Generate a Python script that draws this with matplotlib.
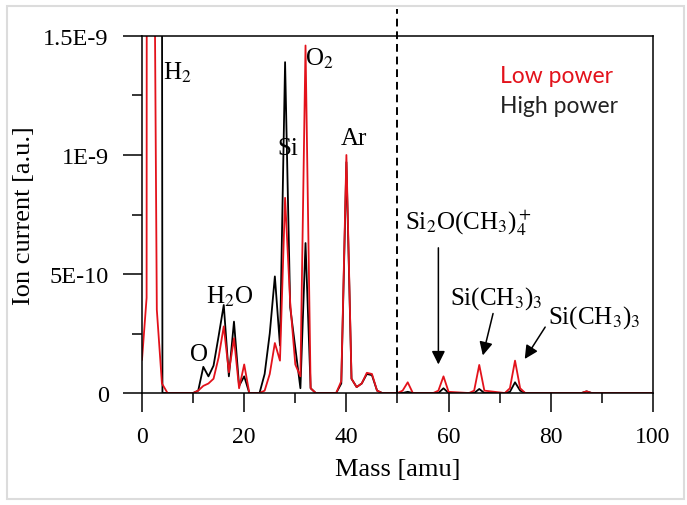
"""
Espectro de massa: corrente iônica vs massa, baixa e alta potência.
"""

import numpy as np
import matplotlib.pyplot as plt
from matplotlib.patches import Rectangle
from matplotlib.ticker import MultipleLocator, FixedLocator, FixedFormatter

plt.rcParams["font.family"] = "Liberation Serif"
plt.rcParams["mathtext.fontset"] = "stix"

# corrente em unidades de 1E-9 (a.u.)
low_mass = [0, 0.9, 1.0, 2.0, 2.9, 3.9, 5, 10, 11, 12, 13, 14, 15, 16, 17, 18, 19, 20, 21,
            23, 24, 25, 26, 27, 28, 29, 30, 31, 32, 33, 34, 38, 39, 40, 41, 42, 43, 44, 45,
            46, 47, 50, 51, 52, 53, 57, 58, 59, 60, 64, 65, 66, 67, 71, 72, 73, 74, 75,
            86, 87, 88, 100]
low_current = [0.14, 0.40, 5.0, 3.3, 0.35, 0.04, 0.0, 0.0, 0.01, 0.03, 0.04, 0.06, 0.15, 0.28,
               0.087, 0.23, 0.02, 0.12, 0.0,
               0.0, 0.01, 0.08, 0.21, 0.136, 0.82, 0.38, 0.12, 0.07, 1.46, 0.02, 0.0, 0.0,
               0.05, 1.0, 0.06, 0.025, 0.04, 0.085, 0.08,
               0.01, 0.0, 0.0, 0.01, 0.045, 0.0, 0.0, 0.01, 0.07, 0.005, 0.0, 0.01, 0.118,
               0.01, 0.0, 0.02, 0.136, 0.02, 0.0,
               0.0, 0.007, 0.0, 0.0]

high_mass = [0, 1, 2, 3, 4, 10, 11, 12, 13, 14, 15, 16, 17, 18, 19, 20, 21,
             23, 24, 25, 26, 27, 28, 29, 30, 31, 32, 33, 34, 38, 39, 40, 41, 42, 43, 44, 45,
             46, 47, 51, 52, 53, 58, 59, 60, 65, 66, 67, 71, 72, 73, 74, 75,
             86, 87, 88, 100]
high_current = [20, 50, 60, 20, 0.0, 0.0, 0.01, 0.11, 0.07, 0.115, 0.24, 0.37, 0.07, 0.30,
                0.03, 0.07, 0.0,
                0.0, 0.08, 0.25, 0.49, 0.2, 1.39, 0.36, 0.19, 0.02, 0.63, 0.02, 0.0, 0.0,
                0.04, 0.97, 0.06, 0.025, 0.04, 0.08, 0.075,
                0.01, 0.0, 0.0, 0.005, 0.0, 0.0, 0.02, 0.0, 0.0, 0.017, 0.0, 0.0, 0.005,
                0.045, 0.01, 0.0,
                0.0, 0.007, 0.0, 0.0]

y_ticks = [0, 5e-10, 1e-9, 1.5e-9]
y_tick_labels = ["0", "5E-10", "1E-9", "1.5E-9"]

# rótulos dos picos: (texto, massa, corrente em 1E-9, alinhamento)
peak_labels = [
    ("H$_2$", 4.1, 1.35, "left"),
    ("O", 11.2, 0.165, "center"),
    ("H$_2$O", 17.2, 0.41, "center"),
    ("Si", 28.6, 1.03, "center"),
    ("O$_2$", 31.9, 1.41, "left"),
    ("Ar", 41.5, 1.07, "center"),
    ("Si$_2$O(CH$_3$)$_4^+$", 51.5, 0.72, "left"),
    ("Si(CH$_3$)$_3$", 60.3, 0.40, "left"),
    ("Si(CH$_3$)$_3$", 79.5, 0.32, "left"),
]
# setas: (massa início, corrente início, massa fim, corrente fim)
arrows = [
    (58.0, 0.61, 58.0, 0.12),
    (68.7, 0.334, 66.7, 0.158),
    (78.9, 0.277, 74.9, 0.143),
]

RED = "#e3121b"

fig = plt.figure(figsize=(6.87, 5.06), dpi=100)
ax = fig.add_axes([0.2067, 0.2213, 0.7438, 0.7056])

ax.plot(high_mass, np.array(high_current) * 1e-9, color="black", lw=1.3)
ax.plot(low_mass, np.array(low_current) * 1e-9, color=RED, lw=1.3)

ax.axvline(50, ymin=0, ymax=1.075, color="black", lw=1.4, ls=(0, (4, 2.5)), clip_on=False)

ax.set_xlim(0, 100)
ax.set_ylim(0, 1.5e-9)
ax.xaxis.set_major_locator(MultipleLocator(20))
ax.xaxis.set_minor_locator(MultipleLocator(10))
ax.yaxis.set_major_locator(FixedLocator(y_ticks))
ax.yaxis.set_major_formatter(FixedFormatter(y_tick_labels))
ax.yaxis.set_minor_locator(MultipleLocator(2.5e-10))
ax.tick_params(which="major", direction="out", length=14, width=1.1, labelsize=17, pad=10)
ax.tick_params(axis="y", which="major", labelsize=17.5)
ax.tick_params(which="minor", direction="out", length=7.5, width=1.1)
for s in ax.spines.values():
    s.set_linewidth(1.1)

ax.set_xlabel("Mass [amu]", fontsize=19, labelpad=8)
ax.set_ylabel("Ion current [a.u.]", fontsize=19, labelpad=6)

for text, m, c, ha in peak_labels:
    ax.text(m, c * 1e-9, text, fontsize=18, ha=ha, va="center")

for m0, c0, m1, c1 in arrows:
    ax.annotate("", xy=(m1, c1 * 1e-9), xytext=(m0, c0 * 1e-9),
                arrowprops=dict(arrowstyle="-|>", color="black", lw=1.1,
                                mutation_scale=20, shrinkA=0, shrinkB=0))

ax.text(0.70, 0.888, "Low power", transform=ax.transAxes, color=RED,
        fontsize=16.5, family="Lato", va="center")
ax.text(0.70, 0.804, "High power", transform=ax.transAxes, color="#222222",
        fontsize=16.5, family="Lato", va="center")

fig.patches.append(Rectangle((0.01, 0.012), 0.985, 0.975, transform=fig.transFigure,
                             fill=False, edgecolor="#dcdcdc", lw=1.5))

fig.savefig("out.png", dpi=100)
